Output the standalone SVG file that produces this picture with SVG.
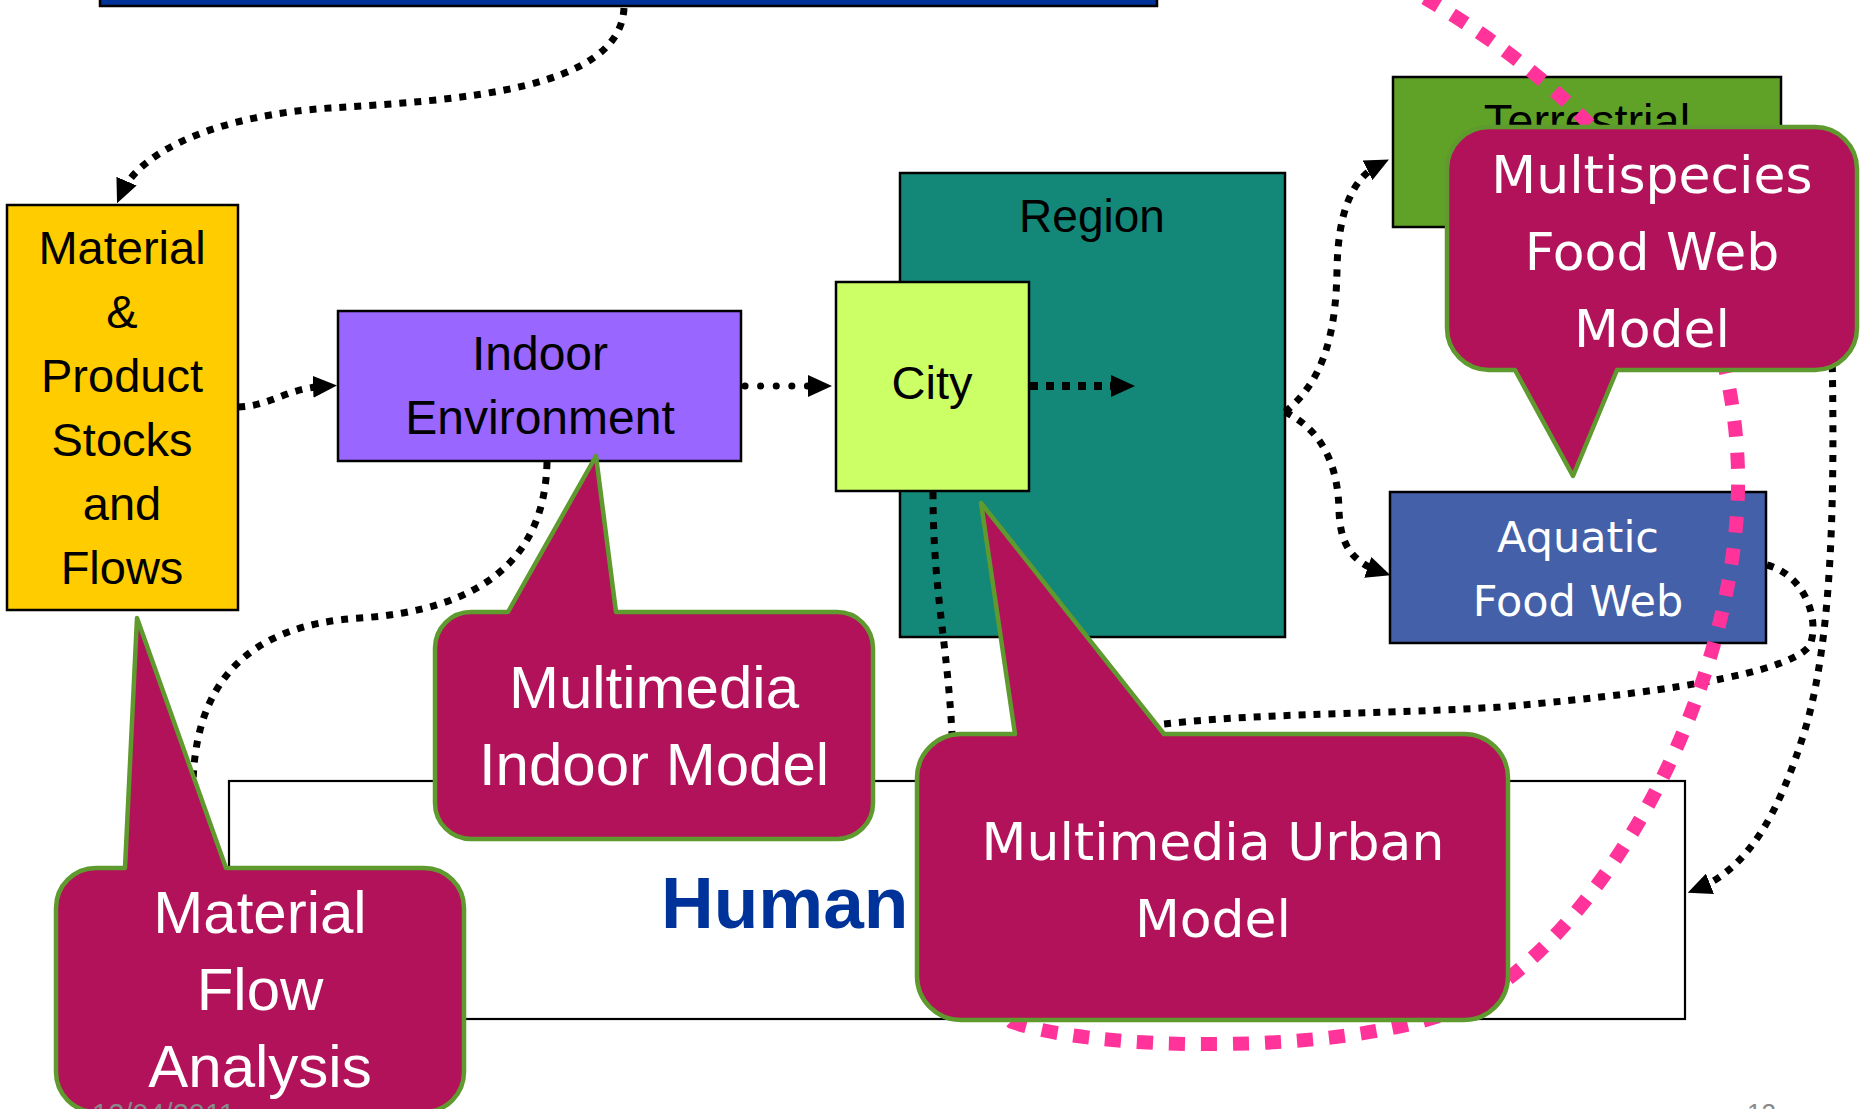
<svg xmlns="http://www.w3.org/2000/svg" width="1865" height="1109" viewBox="0 0 1865 1109">
<style>
.box{stroke:#000;stroke-width:2.5}
.lbl{font-family:"Liberation Sans",Arial,sans-serif;text-anchor:middle;fill:#000}
.dv{font-family:"DejaVu Sans",Verdana,sans-serif;text-anchor:middle;fill:#fff}
.co{fill:#B21259;stroke:#5E9A2D;stroke-width:4.5;stroke-linejoin:round}
.dot{fill:none;stroke:#000;stroke-width:7;stroke-dasharray:7 8}
.rdot{fill:none;stroke:#000;stroke-width:7;stroke-linecap:round;stroke-dasharray:0.1 15.5}
.pink{fill:none;stroke:#FF3399;stroke-width:14;stroke-dasharray:16 16}
.foot{font-family:"Liberation Sans",Arial,sans-serif;fill:#898989}
</style>
<defs>
<marker id="ah" viewBox="0 0 24 22" refX="14" refY="11" markerWidth="24" markerHeight="22" orient="auto" markerUnits="userSpaceOnUse">
<path d="M0,0 L24,11 L0,22 Z" fill="#000" stroke="none"/>
</marker>
</defs>
<rect width="1865" height="1109" fill="#fff"/>

<g id="top-bar">
<rect x="100" y="-10" width="1057" height="16" fill="#003399" stroke="#000" stroke-width="2.5"/>
</g>

<g id="material">
<rect class="box" x="7" y="205" width="231" height="405" fill="#FFCC00"/>
<text class="lbl" font-size="47"><tspan x="122" y="264">Material</tspan><tspan x="122" y="328">&amp;</tspan><tspan x="122" y="392">Product</tspan><tspan x="122" y="456">Stocks</tspan><tspan x="122" y="520">and</tspan><tspan x="122" y="584">Flows</tspan></text>
</g>

<g id="indoor">
<rect class="box" x="338" y="311" width="403" height="150" fill="#9966FF"/>
<text class="lbl" font-size="48"><tspan x="540" y="370">Indoor</tspan><tspan x="540" y="434">Environment</tspan></text>
</g>

<g id="region">
<rect class="box" x="900" y="173" width="385" height="464" fill="#148878"/>
<text class="lbl" font-size="46" x="1092" y="232">Region</text>
</g>

<g id="city">
<rect class="box" x="836" y="282" width="193" height="209" fill="#CCFF66"/>
<text class="lbl" font-size="47" x="932" y="399">City</text>
</g>

<g id="terrestrial">
<rect class="box" x="1393" y="77" width="388" height="150" fill="#60A228"/>
<text class="lbl" font-size="47" x="1587" y="137">Terrestrial</text>
</g>

<g id="aquatic">
<rect class="box" x="1390" y="492" width="376" height="151" fill="#4460A8"/>
<text class="dv" font-size="43"><tspan x="1578" y="552">Aquatic</tspan><tspan x="1578" y="616">Food Web</tspan></text>
</g>

<g id="human">
<rect x="229" y="781" width="1456" height="238" fill="#fff" stroke="#000" stroke-width="2.2"/>
<text x="661" y="928" font-family="Liberation Sans, Arial, sans-serif" font-weight="bold" font-size="73" fill="#003399">Human</text>
</g>

<g id="connectors">
<path class="dot" d="M624 8 C620 90 460 100 330 108 C220 115 140 150 121 194" marker-end="url(#ah)"/>
<path class="dot" d="M238 407 C272 406 285 388 327 386" marker-end="url(#ah)"/>
<path class="rdot" d="M745 386 L822 386" marker-end="url(#ah)"/>
<path class="dot" style="stroke-width:8;stroke-dasharray:8 8" d="M1030 386 L1125 386" marker-end="url(#ah)"/>
<path class="dot" d="M1285 412 C1325 380 1336 330 1337 270 C1338 212 1352 178 1380 164" marker-end="url(#ah)"/>
<path class="dot" d="M1285 412 C1322 430 1338 465 1339 510 C1340 545 1352 562 1381 572" marker-end="url(#ah)"/>
<path class="dot" d="M547 462 C545 560 480 610 360 618 C250 625 190 680 193 800"/>
<path class="dot" d="M933 492 C933 600 950 650 953 760"/>
<path class="dot" d="M1767 565 C1805 575 1820 620 1810 645 C1795 668 1700 690 1500 707 C1350 716 1250 712 1130 728"/>
<path class="dot" d="M1832 350 C1835 500 1832 640 1805 730 C1780 810 1750 868 1697 889" marker-end="url(#ah)"/>
</g>

<g id="pink-link">
<path class="pink" d="M1425 -2 C1530 60 1730 200 1738 470 C1742 650 1640 880 1500 985 C1420 1056 1110 1056 1012 1022 L985 995"/>
</g>

<g id="callout-indoor">
<path class="co" d="M471 612 H508 L596 456 L616 612 H837 A36 36 0 0 1 873 648 V803 A36 36 0 0 1 837 839 H471 A36 36 0 0 1 435 803 V648 A36 36 0 0 1 471 612 Z"/>
<text class="lbl" font-size="60" style="fill:#fff"><tspan x="654" y="708">Multimedia</tspan><tspan x="654" y="785">Indoor Model</tspan></text>
</g>

<g id="callout-mfa">
<path class="co" d="M96 868 H125 L137 618 L226 868 H424 A40 40 0 0 1 464 908 V1072 A40 40 0 0 1 424 1112 H96 A40 40 0 0 1 56 1072 V908 A40 40 0 0 1 96 868 Z"/>
<text class="lbl" font-size="60" style="fill:#fff"><tspan x="260" y="933">Material</tspan><tspan x="260" y="1010">Flow</tspan><tspan x="260" y="1087">Analysis</tspan></text>
</g>

<g id="callout-urban">
<path class="co" d="M961 734 H1015 L981 503 L1164 734 H1464 A44 44 0 0 1 1508 778 V976 A44 44 0 0 1 1464 1020 H961 A44 44 0 0 1 917 976 V778 A44 44 0 0 1 961 734 Z"/>
<text class="dv" font-size="52"><tspan x="1213" y="860">Multimedia Urban</tspan><tspan x="1213" y="937">Model</tspan></text>
</g>

<g id="callout-foodweb">
<path class="co" d="M1489 127 H1815 A42 42 0 0 1 1857 169 V328 A42 42 0 0 1 1815 370 H1617 L1573 476 L1515 370 H1489 A42 42 0 0 1 1447 328 V169 A42 42 0 0 1 1489 127 Z"/>
<text class="dv" font-size="52"><tspan x="1652" y="193">Multispecies</tspan><tspan x="1652" y="270">Food Web</tspan><tspan x="1652" y="347">Model</tspan></text>
</g>

<g id="footer">
<text class="foot" font-size="29" x="92" y="1124">12/04/2011</text>
<text class="foot" font-size="26" x="1747" y="1122">12</text>
</g>
</svg>
